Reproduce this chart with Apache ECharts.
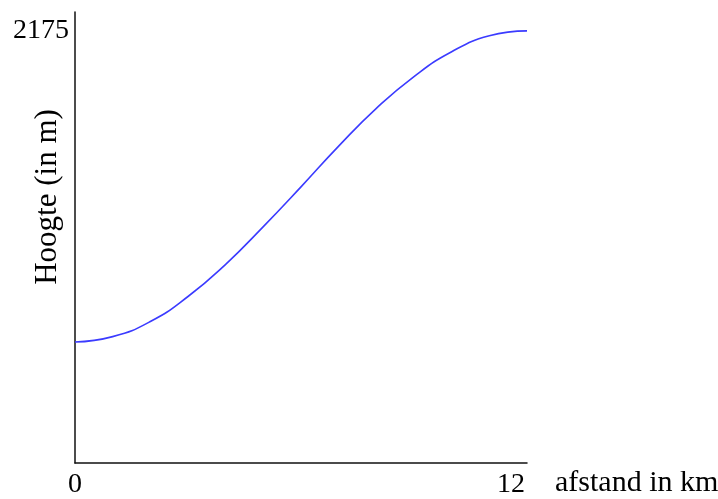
<!DOCTYPE html>
<html><head><meta charset="utf-8">
<script src="https://cdn.jsdelivr.net/npm/echarts@6/dist/echarts.min.js"></script>
<style>html,body{margin:0;padding:0;background:#fff}#c{width:718px;height:499px}</style>
</head><body><div id="c"></div>
<script>
const distanceKm = [0,1,2,3,4,5,6,7,8,9,10,11,12];
const heightM = [609,636,712,838,1000,1190,1390,1595,1785,1945,2070,2150,2175];
const xTickValues = [0,12];
const yTickValues = [2175];
const xTitle = 'afstand in km';
const yTitle = 'Hoogte (in m)';

const font = 'Liberation Serif';
const chart = echarts.init(document.getElementById('c'));
chart.setOption({
  animation:false,
  grid:{left:75, right:191, top:12, bottom:36, containLabel:false, outerBoundsMode:'none'},
  graphic:[{type:'text', x:48, y:197, rotation:Math.PI/2,
    style:{text:yTitle, font:'31px "Liberation Serif"', fill:'#000', align:'center', verticalAlign:'middle'}}],
  xAxis:{type:'value', min:0, max:12,
    axisLine:{show:true, lineStyle:{color:'#111', width:1.5}},
    axisTick:{show:false}, splitLine:{show:false},
    axisLabel:{customValues:xTickValues, margin:8, color:'#000', fontFamily:font, fontSize:28,
      formatter:v=> v===12 ? '{b|'+v+'}' : '{a|'+v+'}',
      rich:{a:{fontFamily:font,fontSize:28,color:'#000'}, b:{fontFamily:font,fontSize:28,color:'#000',padding:[0,32,0,0]}}},
    name:xTitle, nameLocation:'end', nameGap:28,
    nameTextStyle:{fontFamily:font, fontSize:30, color:'#000', verticalAlign:'top', padding:[5,0,0,0]}
  },
  yAxis:{type:'value', min:0, max:2270,
    axisLine:{show:true, lineStyle:{color:'#111', width:1.5}},
    axisTick:{show:false}, splitLine:{show:false},
    axisLabel:{customValues:yTickValues, margin:6, color:'#000', fontFamily:font, fontSize:28, formatter:v=>String(v)}
  },
  series:[{type:'line', data:distanceKm.map((d,i)=>[d,heightM[i]]), smooth:true, showSymbol:false,
    lineStyle:{color:'#3b3bff', width:1.6}}]
});
</script></body></html>
